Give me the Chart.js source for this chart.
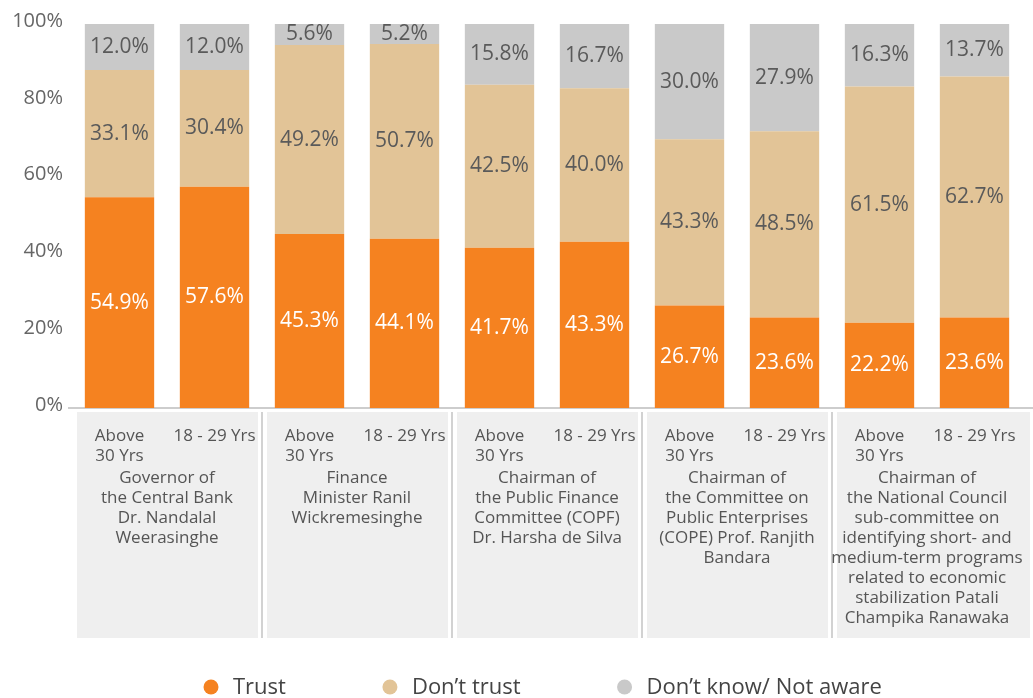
<!DOCTYPE html>
<html>
<head>
<meta charset="utf-8">
<script src="https://cdn.jsdelivr.net/npm/chart.js@4/dist/chart.umd.min.js"></script>
<style>
  html, body { margin: 0; padding: 0; background: #fff; }
  #wrap { width: 1033px; height: 698px; position: relative; }
</style>
</head>
<body>
<div id="wrap"><canvas id="trustChart"></canvas></div>
<script>
// age bands, one per bar (two bars per official)
const ageBands = [
  ["Above", "30 Yrs"], ["18 - 29 Yrs"],
  ["Above", "30 Yrs"], ["18 - 29 Yrs"],
  ["Above", "30 Yrs"], ["18 - 29 Yrs"],
  ["Above", "30 Yrs"], ["18 - 29 Yrs"],
  ["Above", "30 Yrs"], ["18 - 29 Yrs"]
];

// official names, written under each pair of bars
const officials = [
  ["Governor of", "the Central Bank", "Dr. Nandalal", "Weerasinghe"],
  ["Finance", "Minister Ranil", "Wickremesinghe"],
  ["Chairman of", "the Public Finance", "Committee (COPF)", "Dr. Harsha de Silva"],
  ["Chairman of", "the Committee on", "Public Enterprises", "(COPE) Prof. Ranjith", "Bandara"],
  ["Chairman of", "the National Council", "sub-committee on", "identifying short- and", "medium-term programs", "related to economic", "stabilization Patali", "Champika Ranawaka"]
];

const trust     = [54.9, 57.6, 45.3, 44.1, 41.7, 43.3, 26.7, 23.6, 22.2, 23.6];
const dontTrust = [33.1, 30.4, 49.2, 50.7, 42.5, 40.0, 43.3, 48.5, 61.5, 62.7];
const dontKnow  = [12.0, 12.0, 5.6, 5.2, 15.8, 16.7, 30.0, 27.9, 16.3, 13.7];

const yTicks = [0, 20, 40, 60, 80, 100];

const FONT = "'Open Sans', sans-serif";
const ORANGE = '#F58220';
const TAN = '#E2C497';
const GREY = '#C9C9C9';

// grey panels behind the axis labels, one per official
const panels = {
  id: 'panels',
  beforeDraw(chart) {
    const { ctx, chartArea, scales: { x } } = chart;
    const half = (x.getPixelForValue(1) - x.getPixelForValue(0)) / 2;
    const top = chartArea.bottom + 4;
    const bottom = chartArea.bottom + 230;
    ctx.save();
    for (let g = 0; g < officials.length; g++) {
      const left = x.getPixelForValue(2 * g) - half;
      const right = x.getPixelForValue(2 * g + 1) + half;
      const last = g === officials.length - 1;
      ctx.fillStyle = '#EFEFEF';
      ctx.fillRect(left + 5, top, (last ? chart.width - 3 : right - 4) - (left + 5), bottom - top);
      if (!last) {
        ctx.fillStyle = '#C4C4C4';
        ctx.fillRect(right - 0.75, top, 1.5, bottom - top);
      }
    }
    // axis line runs a bit past the plot on both sides
    ctx.strokeStyle = '#BDBDBD';
    ctx.lineWidth = 1.5;
    ctx.beginPath();
    ctx.moveTo(chartArea.left - 4, chartArea.bottom);
    ctx.lineTo(chart.width, chartArea.bottom);
    ctx.stroke();
    ctx.restore();
  },
  afterDraw(chart) {
    const { ctx, chartArea, scales: { x } } = chart;
    ctx.save();
    ctx.font = '17px ' + FONT;
    ctx.fillStyle = '#555';
    ctx.textAlign = 'center';
    ctx.textBaseline = 'middle';
    officials.forEach((lines, g) => {
      const cx = (x.getPixelForValue(2 * g) + x.getPixelForValue(2 * g + 1)) / 2;
      lines.forEach((line, k) => {
        ctx.fillText(line, cx, chartArea.bottom + 70 + k * 20);
      });
    });
    ctx.restore();
  }
};

// percentage printed in the middle of every segment
const segmentLabels = {
  id: 'segmentLabels',
  afterDatasetsDraw(chart) {
    const ctx = chart.ctx;
    ctx.save();
    ctx.font = '21px ' + FONT;
    ctx.textAlign = 'center';
    ctx.textBaseline = 'middle';
    chart.data.datasets.forEach((ds, i) => {
      const meta = chart.getDatasetMeta(i);
      ctx.fillStyle = i === 0 ? '#FFFFFF' : '#5A5A5A';
      meta.data.forEach((bar, j) => {
        ctx.fillText(ds.data[j].toFixed(1) + '%', bar.x, (bar.y + bar.base) / 2);
      });
    });
    ctx.restore();
  }
};

// round-dot legend along the bottom
const dotLegend = {
  id: 'dotLegend',
  afterDraw(chart) {
    const ctx = chart.ctx;
    ctx.save();
    ctx.font = '22px ' + FONT;
    ctx.textBaseline = 'middle';
    let cx = 211;
    const cy = 687;
    chart.data.datasets.forEach(ds => {
      ctx.fillStyle = ds.backgroundColor;
      ctx.beginPath();
      ctx.arc(cx, cy, 7.5, 0, Math.PI * 2);
      ctx.fill();
      ctx.fillStyle = '#444';
      ctx.fillText(ds.label, cx + 22, cy + 1);
      cx += 22 + ctx.measureText(ds.label).width + 104;
    });
    ctx.restore();
  }
};

new Chart(document.getElementById('trustChart'), {
  type: 'bar',
  data: {
    labels: ageBands,
    datasets: [
      { label: 'Trust', data: trust, backgroundColor: ORANGE },
      { label: 'Don’t trust', data: dontTrust, backgroundColor: TAN },
      { label: 'Don’t know/ Not aware', data: dontKnow, backgroundColor: GREY }
    ]
  },
  options: {
    responsive: true,
    maintainAspectRatio: false,
    animation: false,
    layout: { padding: { left: 0, right: 11, top: 24, bottom: 0 } },
    datasets: { bar: { barPercentage: 0.73, categoryPercentage: 1 } },
    plugins: {
      legend: { display: false },
      tooltip: { enabled: false }
    },
    scales: {
      x: {
        stacked: true,
        grid: { display: false },
        border: { display: false },
        ticks: {
          autoSkip: false,
          maxRotation: 0,
          padding: 10,
          color: '#555',
          font: { family: FONT, size: 17, lineHeight: '20px' }
        },
        afterFit(s) { s.height = 290; }
      },
      y: {
        stacked: true,
        min: 0,
        max: 100,
        grid: { display: false, drawTicks: false },
        border: { display: false },
        afterBuildTicks(s) { s.ticks = yTicks.map(v => ({ value: v })); },
        ticks: {
          padding: 9,
          labelOffset: -3,
          color: '#666',
          font: { family: FONT, size: 20 },
          callback: v => v + '%'
        },
        afterFit(s) { s.width = 72; }
      }
    }
  },
  plugins: [panels, segmentLabels, dotLegend]
});
</script>
</body>
</html>
